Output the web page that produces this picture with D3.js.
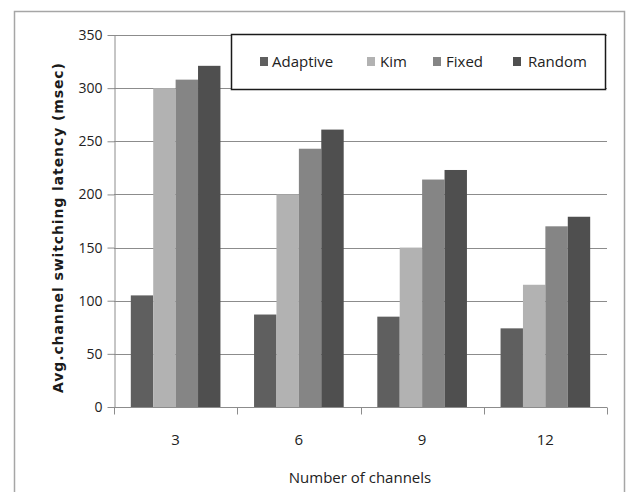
<!DOCTYPE html>
<html>
<head>
<meta charset="utf-8">
<script src="https://cdn.jsdelivr.net/npm/d3@7"></script>
<style>
  html, body { margin: 0; padding: 0; background: #fff; }
  svg { display: block; }
</style>
</head>
<body>
<svg id="chart" width="626" height="492"></svg>
<script>
// Channel counts on the x axis
const channels = ["3", "6", "9", "12"];
// Switching schemes shown side by side in each group
const schemes = ["Adaptive", "Kim", "Fixed", "Random"];
// Average channel switching latency (msec) per scheme, one value per channel count
const adaptive = [105, 87, 85, 74];
const kim = [300, 200, 150, 115];
const fixed = [308, 243, 214, 170];
const random = [321, 261, 223, 179];
const yTicks = [0, 50, 100, 150, 200, 250, 300, 350];

const seriesValues = [adaptive, kim, fixed, random];
const colors = ["#5f5f5f", "#b2b2b2", "#858585", "#4f4f4f"];

const svg = d3.select("#chart");
const plot = { left: 114, right: 607, top: 35, bottom: 407 };

// Outer chart frame (open at the bottom edge)
svg.append("path")
  .attr("d", `M14.5,492 V11.5 H624.5 V492`)
  .attr("fill", "none")
  .attr("stroke", "#a6a6a6")
  .attr("stroke-width", 1.5);

const x0 = d3.scaleBand().domain(channels).range([plot.left, plot.right]).paddingInner(0).paddingOuter(0);
const x1 = d3.scaleBand().domain(schemes).range([0, x0.bandwidth()]).paddingOuter(0.75).paddingInner(0);
const y = d3.scaleLinear().domain([0, 350]).range([plot.bottom, plot.top]);

// Horizontal gridlines
svg.append("g")
  .selectAll("line")
  .data(yTicks.filter(d => d > 0))
  .join("line")
  .attr("x1", plot.left).attr("x2", plot.right)
  .attr("y1", d => Math.round(y(d)) + 0.5).attr("y2", d => Math.round(y(d)) + 0.5)
  .attr("stroke", "#8c8c8c").attr("stroke-width", 1);

// Bars
const groups = svg.append("g")
  .selectAll("g")
  .data(channels)
  .join("g")
  .attr("transform", d => `translate(${x0(d)},0)`);

groups.selectAll("rect")
  .data((c, i) => schemes.map((s, j) => ({ s, v: seriesValues[j][i], j })))
  .join("rect")
  .attr("x", d => x1(d.s))
  .attr("width", x1.bandwidth())
  .attr("y", d => y(d.v))
  .attr("height", d => y(0) - y(d.v))
  .attr("fill", d => colors[d.j]);

// Y axis
const yAxis = svg.append("g")
  .attr("transform", `translate(${plot.left + 0.5},0)`)
  .call(d3.axisLeft(y).tickValues(yTicks).tickSize(7).tickPadding(5).tickSizeOuter(0));
yAxis.select(".domain").attr("stroke", "#8c8c8c");
yAxis.selectAll(".tick line").attr("stroke", "#8c8c8c");
yAxis.selectAll(".tick text")
  .attr("font-family", "'Open Sans', sans-serif")
  .attr("font-size", 14)
  .attr("fill", "#222");

// X axis with tick marks at category boundaries
const xAxis = svg.append("g")
  .attr("transform", `translate(0,${plot.bottom + 0.5})`);
xAxis.append("line")
  .attr("x1", plot.left).attr("x2", plot.right)
  .attr("stroke", "#8c8c8c");
const bounds = channels.map(c => x0(c)).concat([x0(channels[channels.length - 1]) + x0.bandwidth()]);
xAxis.selectAll("line.tk")
  .data(bounds)
  .join("line")
  .attr("class", "tk")
  .attr("x1", d => Math.round(d) + 0.5).attr("x2", d => Math.round(d) + 0.5)
  .attr("y1", 0).attr("y2", 7)
  .attr("stroke", "#8c8c8c");
xAxis.selectAll("text")
  .data(channels)
  .join("text")
  .attr("x", d => x0(d) + x0.bandwidth() / 2)
  .attr("y", 37)
  .attr("text-anchor", "middle")
  .attr("font-family", "'Open Sans', sans-serif")
  .attr("font-size", 15)
  .attr("fill", "#222")
  .text(d => d);

// Axis titles
svg.append("text")
  .attr("x", 360).attr("y", 483)
  .attr("text-anchor", "middle")
  .attr("font-family", "'Open Sans', sans-serif")
  .attr("font-size", 15)
  .attr("fill", "#222")
  .text("Number of channels");

svg.append("text")
  .attr("transform", "translate(63,228) rotate(-90)")
  .attr("text-anchor", "middle")
  .attr("font-family", "'DejaVu Sans', sans-serif")
  .attr("font-weight", "bold")
  .attr("font-size", 14)
  .attr("textLength", 330)
  .attr("lengthAdjust", "spacing")
  .attr("fill", "#1a1a1a")
  .text("Avg.channel switching latency (msec)");

// Legend
const legend = svg.append("g");
legend.append("rect")
  .attr("x", 231.5).attr("y", 34.5)
  .attr("width", 374).attr("height", 55)
  .attr("fill", "#fff")
  .attr("stroke", "#1a1a1a")
  .attr("stroke-width", 1.5);
const legendX = [260, 367, 433, 513];
const items = legend.selectAll("g.item")
  .data(schemes)
  .join("g")
  .attr("class", "item")
  .attr("transform", (d, i) => `translate(${legendX[i]},0)`);
items.append("rect")
  .attr("x", 0).attr("y", 57)
  .attr("width", 8).attr("height", 9)
  .attr("fill", (d, i) => colors[i]);
items.append("text")
  .attr("x", (d, i) => [12, 13, 13, 15][i])
  .attr("y", 67)
  .attr("font-family", "'Open Sans', sans-serif")
  .attr("font-size", 15)
  .attr("fill", "#222")
  .text(d => d);
</script>
</body>
</html>
